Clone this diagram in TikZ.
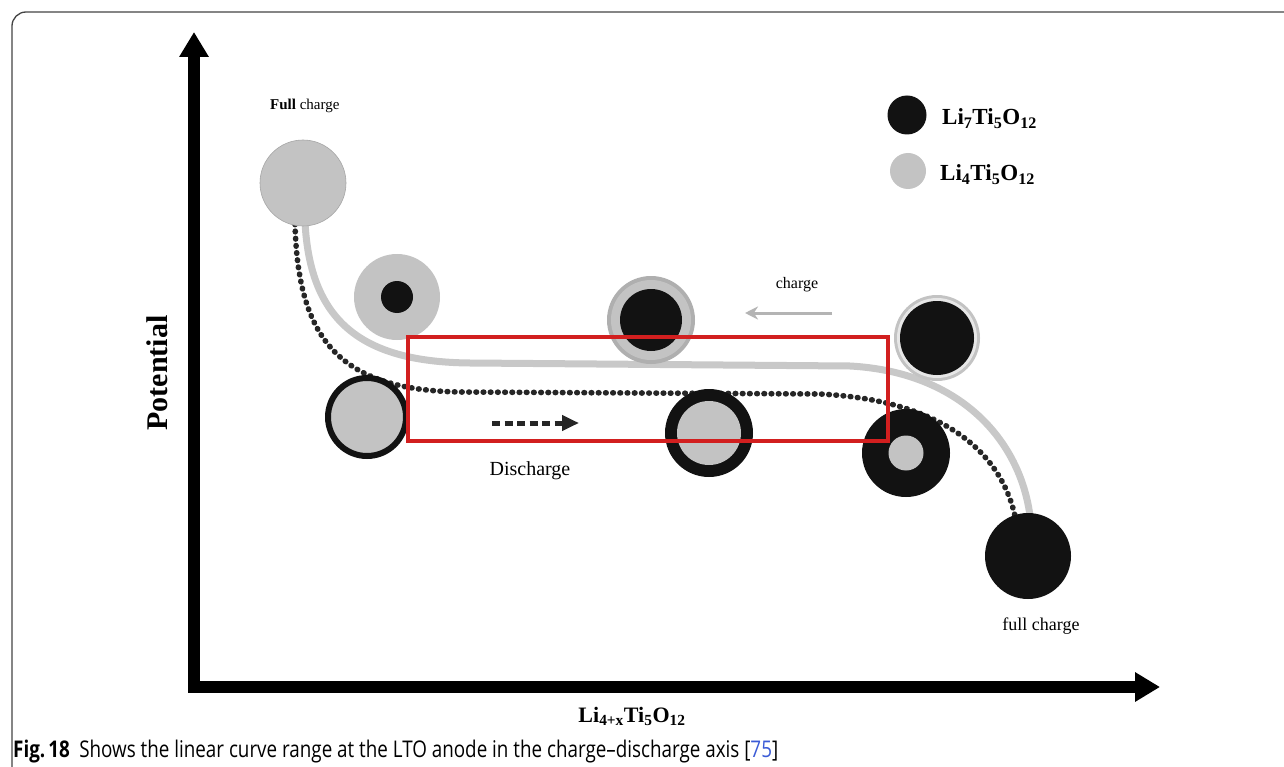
\documentclass[tikz,border=0pt]{standalone}
\usepackage{fontspec}
\usepackage{graphicx}
\setmainfont{Liberation Serif}
\newfontfamily\capfont{Open Sans}
\usetikzlibrary{arrows.meta}
\definecolor{ltogray}{HTML}{C3C3C3}
\definecolor{ltoblack}{HTML}{121212}
\definecolor{curvegray}{HTML}{C8C8C8}
\definecolor{dotgray}{HTML}{262626}
\definecolor{boxred}{HTML}{D21F1F}
\definecolor{framegray}{HTML}{444444}
\definecolor{refblue}{HTML}{3B5BD6}
\tikzset{
  ball/.style={circle, inner sep=0pt, minimum size=#1, draw=none},
  axisline/.style={line width=12pt, draw=black, {Triangle[length=25pt,width=28pt]}-{Triangle[length=25pt,width=28pt]}},
  chargecurve/.style={line width=7pt, draw=curvegray, line cap=round},
  dischargecurve/.style={line width=5.6pt, draw=dotgray, line cap=round, dash pattern=on 0.6pt off 6.6pt},
  lbl/.style={inner sep=0pt, anchor=base, text=black},
}
\newcommand{\fs}[1]{\fontsize{#1}{#1}\selectfont}
\begin{document}
\begin{tikzpicture}[x=1pt,y=-1pt]
\useasboundingbox (0,0) rectangle (1284,767);
\fill[white] (0,0) rectangle (1284,767);
% frame
\draw[framegray, line width=1.3pt, rounded corners=14pt] (12,767) -- (12,12) -- (1284,12);

% axes
\coordinate (O) at (194,687);
\coordinate (ytip) at (194,32);
\coordinate (xtip) at (1160,687);
\draw[axisline, miter limit=10] (ytip) -- (O) -- (xtip);

% particle positions
\coordinate (p1) at (303,183);
\coordinate (p2) at (397,297);
\coordinate (p3) at (367,417);
\coordinate (p4) at (651,320);
\coordinate (p5) at (709,433);
\coordinate (p6) at (937,338);
\coordinate (p7) at (906,453);
\coordinate (p8) at (1028,556);

% curves (beneath the particles)
\draw[chargecurve] (305,222) .. controls (310,320) and (360,362) .. (470,363)
   -- (850,366) .. controls (960,372) and (1020,440) .. (1030,516);
\draw[dischargecurve] (295,224) .. controls (298,340) and (340,390) .. (460,392)
   -- (820,394) .. controls (940,400) and (1000,450) .. (1015,516);

% particles
\node[ball=86pt, fill=ltogray, draw=ltogray!85!black, line width=0.6pt] (c1) at (p1) {};
\node[ball=86pt, fill=ltogray] (c2) at (p2) {};
\node[ball=32pt, fill=ltoblack] (c2in) at (p2) {};
\node[ball=78pt, fill=ltogray, draw=ltoblack, line width=6pt] (c3) at (p3) {};
\node[ball=88pt, fill=ltogray!90!black] (c4) at (p4) {};
\node[ball=80pt, fill=ltogray] (c4mid) at (p4) {};
\node[ball=62pt, fill=ltoblack] (c4in) at (p4) {};
\node[ball=88pt, fill=ltoblack] (c5) at (p5) {};
\node[ball=64pt, fill=ltogray] (c5in) at (p5) {};
\node[ball=86pt, fill=ltogray] (c6) at (p6) {};
\node[ball=80pt, fill=white!60!ltogray] (c6mid) at (p6) {};
\node[ball=74pt, fill=ltoblack] (c6in) at (p6) {};
\node[ball=88pt, fill=ltoblack] (c7) at (p7) {};
\node[ball=35pt, fill=ltogray] (c7in) at (p7) {};
\node[ball=86pt, fill=ltoblack] (c8) at (p8) {};

% red window
\draw[boxred, line width=3.5pt] (408,337) rectangle (888,441);

% charge arrow
\coordinate (chs) at (832,313);
\coordinate (che) at (745,313);
\draw[curvegray!90!black, line width=3pt, -{Stealth[length=13pt,width=13pt]}] (chs) -- (che);

% discharge arrow
\coordinate (dis) at (492,423);
\coordinate (die) at (579,423);
\draw[dotgray, line width=5pt, dash pattern=on 8pt off 4.5pt, -{Triangle[length=17pt,width=15pt]}] (dis) -- (die);

% legend
\node[ball=39pt, fill=ltoblack] (lg1) at (907,115) {};
\node[ball=36pt, fill=ltogray] (lg2) at (908,171) {};
\node[lbl, anchor=base west] (lt1) at (942,125) {\fs{23}\bfseries Li\textsubscript{7}Ti\textsubscript{5}O\textsubscript{12}};
\node[lbl, anchor=base west] (lt2) at (940,181) {\fs{23}\bfseries Li\textsubscript{4}Ti\textsubscript{5}O\textsubscript{12}};

% labels
\node[lbl, anchor=base west] (tfull) at (270,110) {\fs{15}\textbf{Full} charge};
\node[lbl] (tcharge) at (797,288) {\fs{16}charge};
\node[lbl] (tdis) at (530,475) {\fs{20}Discharge};
\node[lbl] (tfull2) at (1041,630) {\fs{18}full charge};
\node[inner sep=0pt, rotate=90] (tpot) at (157,373) {\fs{30}\bfseries Potential};
\node[lbl] (txax) at (632,722) {\fs{22}\bfseries Li\textsubscript{4+x}Ti\textsubscript{5}O\textsubscript{12}};

% caption
\node[lbl, anchor=base west] (cap) at (13,757) {\resizebox{765pt}{\height}{\capfont\fs{23}\textbf{Fig.\,18}\enspace Shows the linear curve range at the LTO anode in the charge–discharge axis [\textcolor{refblue}{75}]}};
\end{tikzpicture}
\end{document}
